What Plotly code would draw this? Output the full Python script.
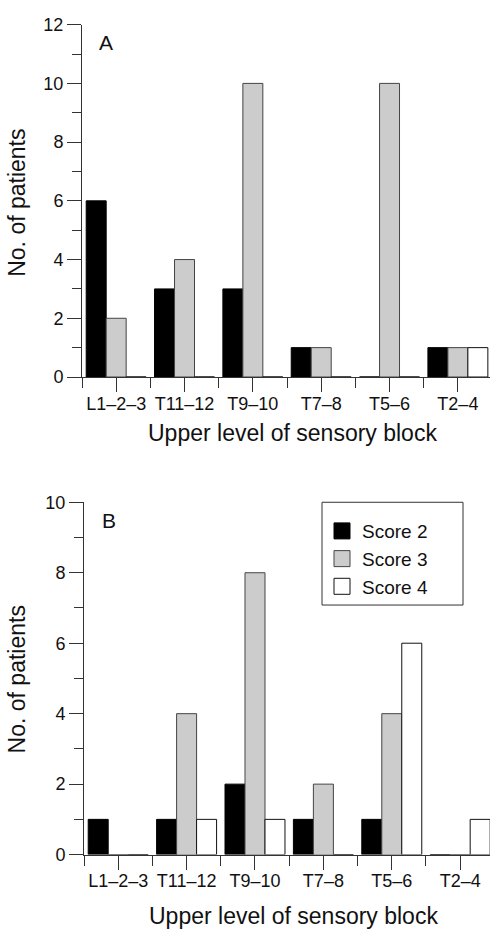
import plotly.graph_objects as go

W, H = 490, 938

categories = ["L1\u20132\u20133", "T11\u201312", "T9\u201310", "T7\u20138", "T5\u20136", "T2\u20134"]
series_names = ["Score 2", "Score 3", "Score 4"]

# Panel A
a_score2 = [6, 3, 3, 1, 0, 1]
a_score3 = [2, 4, 10, 1, 10, 1]
a_score4 = [0, 0, 0, 0, 0, 1]

# Panel B
b_score2 = [1, 1, 2, 1, 1, 0]
b_score3 = [0, 4, 8, 2, 4, 0]
b_score4 = [0, 1, 1, 0, 6, 1]

fills = ["#000000", "#cccccc", "#ffffff"]
outlines = ["#000000", "#444444", "#111111"]

FONT = "Liberation Sans, Arial, Helvetica, sans-serif"
xpos = list(range(len(categories)))

fig = go.Figure()

for vals, axes in [((a_score2, a_score3, a_score4), ("x", "y")),
                   ((b_score2, b_score3, b_score4), ("x2", "y2"))]:
    for i, v in enumerate(vals):
        fig.add_trace(go.Bar(
            x=xpos, y=v, name=series_names[i],
            marker=dict(color=fills[i], line=dict(color=outlines[i], width=1)),
            xaxis=axes[0], yaxis=axes[1], showlegend=False,
            offsetgroup=str(i),
        ))

# legend entries
for i in range(3):
    fig.add_trace(go.Scatter(
        x=[None], y=[None], mode="markers", name=series_names[i],
        marker=dict(symbol="square", size=16, color=fills[i],
                    line=dict(color=outlines[i], width=1)),
        xaxis="x2", yaxis="y2", showlegend=True,
    ))

def px_x(p):
    return p / W

def px_y(p):
    return 1 - p / H

axis_common = dict(
    showgrid=False, zeroline=False, showline=True, linecolor="#333333", linewidth=1,
    ticks="outside", tickcolor="#333333", tickwidth=1,
    tickfont=dict(family=FONT, size=18, color="#111111"),
)

def ann(text, x, y, size, angle=0):
    return dict(text=text, x=px_x(x), y=px_y(y), xref="paper", yref="paper",
                xanchor="center", yanchor="middle", textangle=angle, showarrow=False,
                font=dict(family=FONT, size=size, color="#111111"))

fig.update_layout(
    width=W, height=H,
    margin=dict(l=0, r=0, t=0, b=0),
    paper_bgcolor="white", plot_bgcolor="white",
    barmode="group", bargap=0.123, bargroupgap=0,
    font=dict(family=FONT, color="#111111"),
    xaxis=dict(domain=[px_x(82), 1], range=[-0.5, 5.47],
               tickmode="array", tickvals=xpos, ticktext=categories, ticklen=14,
               ticklabelstandoff=-4,
               minor=dict(tickvals=[k - 0.5 for k in range(7)], ticks="outside", ticklen=10,
                          tickcolor="#333333"),
               anchor="y", **axis_common),
    yaxis=dict(domain=[px_y(375), px_y(15)], range=[0, 12], tickvals=[0, 2, 4, 6, 8, 10, 12],
               ticklen=14,
               minor=dict(tickvals=[1, 3, 5, 7, 9, 11], ticks="outside", ticklen=9,
                          tickcolor="#333333"),
               anchor="x", **axis_common),
    xaxis2=dict(domain=[px_x(84), 1], range=[-0.5, 5.436],
                tickmode="array", tickvals=xpos, ticktext=categories, ticklen=14,
                ticklabelstandoff=-4,
                minor=dict(tickvals=[k - 0.5 for k in range(7)], ticks="outside", ticklen=10,
                           tickcolor="#333333"),
                anchor="y2", **axis_common),
    yaxis2=dict(domain=[px_y(863), px_y(503)], range=[0, 10], tickvals=[0, 2, 4, 6, 8, 10],
                ticklen=14,
                minor=dict(tickvals=[1, 3, 5, 7, 9], ticks="outside", ticklen=9,
                           tickcolor="#333333"),
                anchor="x2", **axis_common),
    showlegend=True,
    legend=dict(x=px_x(322), y=px_y(513), xanchor="left", yanchor="top",
                bgcolor="rgba(0,0,0,0)", borderwidth=0,
                font=dict(family=FONT, size=19, color="#111111"),
                itemsizing="trace", tracegroupgap=0),
    shapes=[dict(type="rect", xref="paper", yref="paper",
                 x0=px_x(322), x1=px_x(463), y0=px_y(608), y1=px_y(503),
                 line=dict(color="#333333", width=1), fillcolor="rgba(0,0,0,0)", layer="above")],
    annotations=[
        ann("A", 105.5, 33.5, 21),
        ann("B", 108.5, 521.5, 21),
        ann("No. of patients", 17, 197, 23, -90),
        ann("No. of patients", 17, 684, 23, -90),
        ann("Upper level of sensory block", 292, 432, 23),
        ann("Upper level of sensory block", 293, 926, 23),
    ],
)

fig.write_html("out.html", config={"displayModeBar": False},
               post_script="document.body.style.margin='0';")
